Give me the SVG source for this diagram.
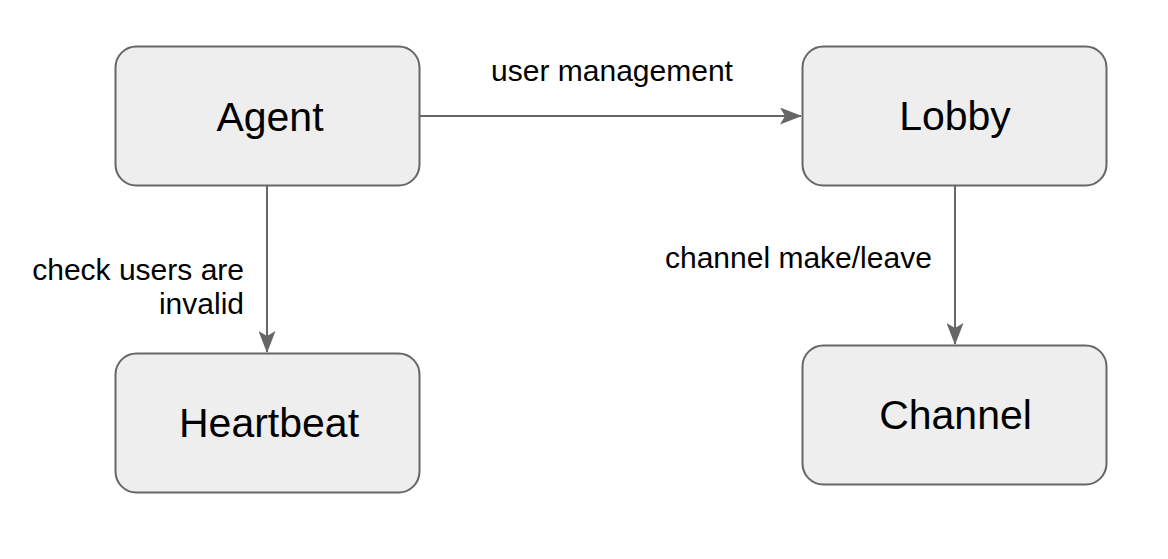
<svg xmlns="http://www.w3.org/2000/svg" width="1168" height="559" viewBox="0 0 1168 559">
<defs>
<style>
.node rect{fill:#eeeeee;stroke:#666666;stroke-width:2}
.node text{font-family:"Liberation Sans",Arial,sans-serif;font-size:41px;fill:#000;text-anchor:middle}
.edge{stroke:#666666;stroke-width:2;fill:none}
.lbl{font-family:"Liberation Sans",Arial,sans-serif;font-size:30px;fill:#000}
</style>
<marker id="arr" viewBox="0 0 22 17" refX="21" refY="8.5" markerWidth="22" markerHeight="17" markerUnits="userSpaceOnUse" orient="auto">
<path d="M0,0 L22,8.5 L0,17 L5,8.5 Z" fill="#666666"/>
</marker>
</defs>
<rect width="1168" height="559" fill="#ffffff"/>
<g id="connectors">
<path class="edge" d="M420,116 L801,116" marker-end="url(#arr)"/>
<path class="edge" d="M267,186 L267,352" marker-end="url(#arr)"/>
<path class="edge" d="M955,186 L955,344" marker-end="url(#arr)"/>
<text class="lbl" x="612" y="81" text-anchor="middle">user management</text>
<text class="lbl" x="244" y="280" text-anchor="end">check users are</text>
<text class="lbl" x="244" y="314" text-anchor="end">invalid</text>
<text class="lbl" x="665" y="268">channel make/leave</text>
</g>
<g id="agent" class="node"><rect x="115.5" y="46.5" width="304" height="139" rx="21"/><text x="270" y="131">Agent</text></g>
<g id="lobby" class="node"><rect x="802.5" y="46.5" width="304" height="139" rx="21"/><text x="955" y="130">Lobby</text></g>
<g id="heartbeat" class="node"><rect x="115.5" y="353.5" width="304" height="139" rx="21"/><text x="269" y="437">Heartbeat</text></g>
<g id="channel" class="node"><rect x="802.5" y="345.5" width="304" height="139" rx="21"/><text x="955.5" y="429">Channel</text></g>
</svg>
